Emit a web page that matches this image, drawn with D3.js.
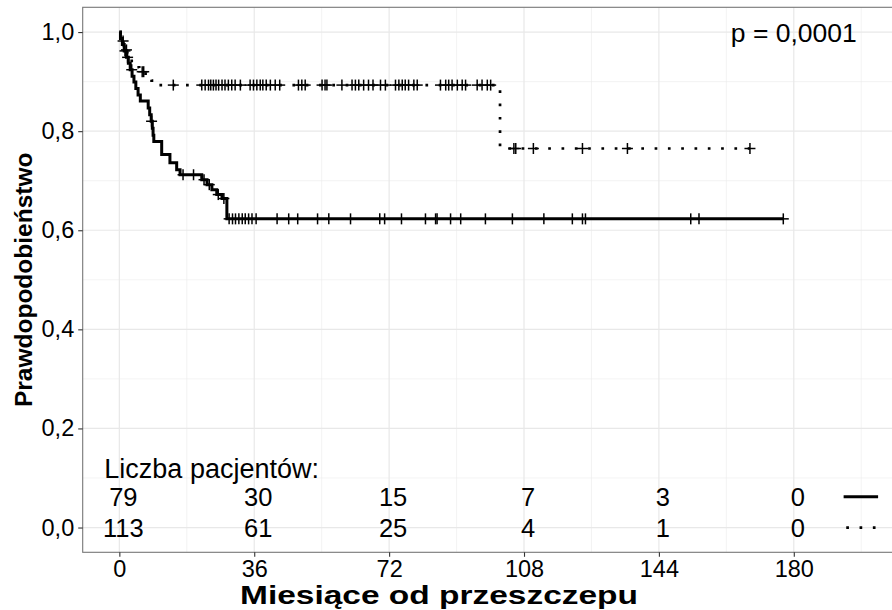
<!DOCTYPE html>
<html>
<head>
<meta charset="utf-8">
<script src="https://cdn.jsdelivr.net/npm/d3@7"></script>
<style>
  body { margin: 0; background: #fff; }
  svg { display: block; font-family: "Liberation Sans", Arial, sans-serif; }
</style>
</head>
<body>
<script>
// tick values and number-at-risk table
const xTicks = [0, 36, 72, 108, 144, 180];
const xMinor = [18, 54, 90, 126, 162, 198];
const yTicks = [0, 0.2, 0.4, 0.6, 0.8, 1.0];
const yMinor = [0.1, 0.3, 0.5, 0.7, 0.9];
const riskSolid = [79, 30, 15, 7, 3, 0];
const riskDotted = [113, 61, 25, 4, 1, 0];

// solid curve: step times (months) and survival after each step
const solidTimes = [0, 0.3, 0.8, 1.3, 1.9, 2.4, 2.9, 3.4, 3.9, 4.4, 5.0, 5.6,
  7.7, 8.1, 8.5, 8.8, 9.0, 9.2, 11.3, 13.5, 15.3, 16.2,
  22.0, 23.4, 24.7, 26.0, 27.4, 28.7, 177.2];
const solidSurv = [1, 0.987, 0.975, 0.962, 0.949, 0.937, 0.924, 0.911, 0.899, 0.886, 0.873, 0.861,
  0.847, 0.833, 0.820, 0.806, 0.792, 0.779, 0.753, 0.736, 0.722, 0.712,
  0.702, 0.692, 0.682, 0.672, 0.664, 0.623, 0.623];
const solidCensor = [1.5, 2.2, 3.3, 8.6, 17.0, 19.8, 22.6, 24.0, 26.4, 27.9,
  29.3, 30.2, 31.0, 31.9, 32.8, 33.6, 34.5, 35.4, 36.5, 42.1, 45.2, 47.6, 52.9, 55.9,
  61.7, 69.5, 70.8, 75.3, 81.7, 84.4, 84.8, 88.4, 91.1, 97.7, 104.9, 113.3, 120.9,
  123.6, 124.4, 152.5, 154.7, 177.2];

// dotted curve
const dottedTimes = [0, 0.3, 0.7, 1.1, 1.6, 2.1, 2.7, 3.3, 4.2, 5.3, 7.0, 8.6, 10.2, 101.6, 168.3];
const dottedSurv = [1, 0.991, 0.982, 0.973, 0.964, 0.956, 0.947, 0.938, 0.929, 0.920, 0.911, 0.902, 0.893, 0.765, 0.765];
const dottedCensor = [1.0, 1.9, 6.1, 6.5, 14.4, 22.0, 22.9, 23.8, 24.4, 25.1, 25.8, 26.5, 27.4,
  28.2, 29.1, 30.0, 30.9, 32.3, 34.9, 35.8, 36.7, 37.6, 38.3, 39.2, 40.3, 41.6, 42.8,
  47.8, 48.7, 49.6, 54.1, 54.9, 55.4, 59.4, 62.1, 63.0, 63.9, 65.2, 66.5, 67.7, 69.7,
  71.0, 73.7, 74.6, 75.5, 76.3, 77.2, 78.6, 79.5, 85.7, 87.1, 87.9, 88.8, 90.2, 91.5,
  92.4, 95.5, 96.8, 98.2, 99.1, 105.3, 105.8, 110.5, 123.6, 135.6, 168.3];

const W = 892, H = 610;
const svg = d3.select("body").append("svg").attr("width", W).attr("height", H);

const x = d3.scaleLinear().domain([-9.78, 208]).range([82.7, 898.7]);
const y = d3.scaleLinear().domain([-0.05, 1.05]).range([552.3, 7.3]);

// grid
const grid = svg.append("g");
grid.selectAll(".xmin").data(xMinor).enter().append("line")
  .attr("x1", d => x(d)).attr("x2", d => x(d)).attr("y1", y(-0.05)).attr("y2", y(1.05))
  .attr("stroke", "#ebebeb").attr("stroke-width", 0.6);
grid.selectAll(".ymin").data(yMinor).enter().append("line")
  .attr("x1", x(-9.78)).attr("x2", W).attr("y1", d => y(d)).attr("y2", d => y(d))
  .attr("stroke", "#ebebeb").attr("stroke-width", 0.6);
grid.selectAll(".xmaj").data(xTicks).enter().append("line")
  .attr("x1", d => x(d)).attr("x2", d => x(d)).attr("y1", y(-0.05)).attr("y2", y(1.05))
  .attr("stroke", "#e8e8e8").attr("stroke-width", 1.2);
grid.selectAll(".ymaj").data(yTicks).enter().append("line")
  .attr("x1", x(-9.78)).attr("x2", W).attr("y1", d => y(d)).attr("y2", d => y(d))
  .attr("stroke", "#e8e8e8").attr("stroke-width", 1.2);

// curves
const line = d3.line().x(d => x(d[0])).y(d => y(d[1])).curve(d3.curveStepAfter);
const solidData = solidTimes.map((t, i) => [t, solidSurv[i]]);
const dottedData = dottedTimes.map((t, i) => [t, dottedSurv[i]]);

function survAt(times, surv, t) {
  let s = surv[0];
  times.forEach((tt, i) => { if (tt <= t) s = surv[i]; });
  return s;
}

svg.append("path").datum(dottedData).attr("d", line)
  .attr("fill", "none").attr("stroke", "#000").attr("stroke-width", 2.7)
  .attr("stroke-dasharray", "2.7,10.6");
svg.append("path").datum(solidData).attr("d", line)
  .attr("fill", "none").attr("stroke", "#000").attr("stroke-width", 3);

function crosses(list, times, surv) {
  const g = svg.append("g").attr("stroke", "#000").attr("stroke-width", 1.5);
  list.forEach(t => {
    const cx = x(t), cy = y(survAt(times, surv, t));
    g.append("line").attr("x1", cx - 5.5).attr("x2", cx + 5.5).attr("y1", cy).attr("y2", cy);
    g.append("line").attr("x1", cx).attr("x2", cx).attr("y1", cy - 5.5).attr("y2", cy + 5.5);
  });
}
crosses(dottedCensor, dottedTimes, dottedSurv);
crosses(solidCensor, solidTimes, solidSurv);

// p-value
svg.append("text").attr("x", x(180)).attr("y", y(1.0)).attr("dy", "0.36em")
  .attr("text-anchor", "middle").attr("font-size", 26.5).attr("fill", "#000")
  .text("p = 0,0001");

// number at risk
svg.append("text").attr("x", x(-4)).attr("y", y(0.12)).attr("dy", "0.36em")
  .attr("font-size", 27).attr("fill", "#000").text("Liczba pacjentów:");
svg.selectAll(".r1").data(xTicks).enter().append("text")
  .attr("x", (d, i) => x(d) + 4).attr("y", y(0.062)).attr("dy", "0.36em")
  .attr("text-anchor", "middle").attr("font-size", 25.5).attr("fill", "#000")
  .text((d, i) => riskSolid[i]);
svg.selectAll(".r2").data(xTicks).enter().append("text")
  .attr("x", (d, i) => x(d) + 4).attr("y", y(0)).attr("dy", "0.36em")
  .attr("text-anchor", "middle").attr("font-size", 25.5).attr("fill", "#000")
  .text((d, i) => riskDotted[i]);

// legend keys
svg.append("line").attr("x1", x(193.3)).attr("x2", x(202.5)).attr("y1", y(0.062)).attr("y2", y(0.062))
  .attr("stroke", "#000").attr("stroke-width", 3);
svg.append("line").attr("x1", x(194)).attr("x2", x(202.5)).attr("y1", y(0)).attr("y2", y(0))
  .attr("stroke", "#000").attr("stroke-width", 2.7).attr("stroke-dasharray", "2.7,10.6");

// panel border
svg.append("rect").attr("x", x(-9.78)).attr("y", y(1.05))
  .attr("width", x(208) - x(-9.78)).attr("height", y(-0.05) - y(1.05))
  .attr("fill", "none").attr("stroke", "#777").attr("stroke-width", 1.1);

// axes
const xAxis = svg.append("g").attr("transform", `translate(0,${y(-0.05)})`)
  .call(d3.axisBottom(x).tickValues(xTicks).tickSize(4.5).tickPadding(4));
const yAxis = svg.append("g").attr("transform", `translate(${x(-9.78)},0)`)
  .call(d3.axisLeft(y).tickValues(yTicks).tickSize(4.5).tickPadding(4)
    .tickFormat(d => d3.format(".1f")(d).replace(".", ",")));
[xAxis, yAxis].forEach(a => {
  a.select(".domain").remove();
  a.selectAll(".tick line").attr("stroke", "#333").attr("stroke-width", 1.1);
  a.selectAll(".tick text").attr("fill", "#000").attr("font-size", 23.5)
    .attr("font-family", "'Liberation Sans', Arial, sans-serif");
});

// axis titles
svg.append("text").attr("x", 439).attr("y", 604).attr("text-anchor", "middle")
  .attr("font-size", 26.5).attr("font-weight", "bold").attr("fill", "#000")
  .attr("textLength", 398).attr("lengthAdjust", "spacingAndGlyphs")
  .text("Miesiące od przeszczepu");
svg.append("text").attr("transform", `translate(23,${(y(1.05) + y(-0.05)) / 2}) rotate(-90)`)
  .attr("text-anchor", "middle").attr("dy", "0.36em")
  .attr("font-size", 24.5).attr("font-weight", "bold").attr("fill", "#000")
  .text("Prawdopodobieństwo");
</script>
</body>
</html>
